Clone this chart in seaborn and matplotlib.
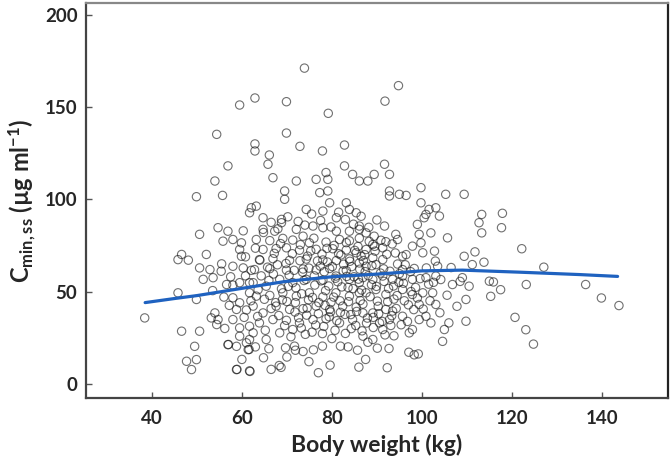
import matplotlib
matplotlib.use("Agg")
import matplotlib.pyplot as plt
import seaborn as sns
import pandas as pd

# body weight (kg) and Cmin,ss (ug/ml)
weight = [
    # high values
    73.9, 94.8, 62.9, 59.5, 69.9, 91.8, 79.2, 54.4, 69.9, 72.9, 62.9, 62.9, 82.8, 77.9, 66.1,
    # right tail
    113.3, 112.7, 113.3, 117.9, 117.7, 122.2, 127.1, 113.8, 111.8, 115.0, 115.9, 117.5, 115.3,
    123.2, 136.4, 139.9, 143.8, 120.7, 123.1, 124.8,
    # 40-62 kg, upper
    56.9, 54.0, 49.9, 55.7, 61.7, 62.1, 50.6, 54.7, 56.9, 60.3, 55.8, 58.0, 59.9, 59.5, 46.6,
    45.8, 48.1, 52.1, 59.9, 60.8, 50.6, 52.9, 55.4, 58.0, 60.3, 62.1,
    # 62-87 kg, upper
    65.8, 66.9, 72.1, 69.5, 69.5, 76.5, 78.7, 79.1, 82.8, 84.6, 86.1, 77.3, 79.1, 79.5, 83.2,
    83.9, 85.4, 74.3, 78.0, 81.0, 63.2, 64.7, 68.8, 68.8, 64.7, 67.3, 72.1, 75.8, 78.0, 81.0,
    83.9, 86.1, 63.2, 66.2, 69.1, 71.3, 73.6, 75.0, 78.7, 81.7, 83.9, 86.1, 64.7, 67.6, 69.9,
    72.8, 76.5, 80.2, 83.2, 85.4, 63.9, 66.9, 70.6, 74.3, 78.0, 81.0, 83.9, 86.1, 62.8, 66.2,
    69.9, 73.6, 76.5, 79.5, 83.2,
    # 86-111 kg, upper
    91.7, 89.4, 88.0, 92.8, 92.8, 92.8, 95.0, 96.5, 99.8, 105.3, 109.4, 99.8, 101.6, 103.1, 100.9,
    103.9, 100.5, 99.0, 91.7, 89.4, 87.6, 86.1, 94.2, 94.6, 99.4, 102.0, 99.8, 105.7, 89.1, 91.3,
    87.6, 97.9, 100.2, 102.8, 95.7, 86.5, 89.1, 91.3, 87.6, 89.8, 103.5, 109.4, 111.2, 95.7,
    # 38-62 kg, lower
    38.4, 45.8, 49.9, 46.6, 50.6, 49.5, 47.7, 49.9, 48.8, 54.0, 53.2, 54.7, 54.4, 56.6, 58.0,
    59.5, 51.4, 53.6, 58.0, 59.5, 58.8, 61.0, 58.0, 59.5, 61.7, 59.5, 61.7, 58.8, 61.4, 56.9,
    58.8, 61.7, 61.7, 61.7,
    # 62-87 kg, lower
    62.5, 65.4, 68.4, 71.3, 74.3, 78.0, 80.9, 83.9, 86.1, 63.2, 66.2, 69.1, 72.1, 75.0, 78.0,
    80.9, 83.9, 86.1, 62.5, 64.7, 67.6, 70.6, 73.6, 76.5, 79.5, 82.4, 85.4, 63.9, 66.9, 69.9,
    72.8, 75.8, 78.7, 81.7, 84.6, 62.5, 65.4, 68.4, 71.3,
    # lowest values
    77.0, 79.6, 75.9, 77.9, 71.7, 71.9, 69.7, 68.3, 68.7, 66.5, 64.8, 61.8, 60.0, 58.9, 61.0,
    61.6, 57.0, 83.6, 81.9, 85.7, 86.0, 87.5, 90.1, 92.3, 92.7, 97.1, 98.3, 99.2,
    # 86-111 kg, lower
    86.9, 89.1, 91.3, 93.5, 95.7, 97.9, 100.9, 103.1, 106.8, 109.0, 110.5, 87.6, 89.8, 92.0, 95.7,
    97.9, 100.2, 102.4, 109.8, 86.9, 89.1, 92.0, 93.5, 95.7, 90.6, 92.8, 99.4, 103.1, 100.9, 102.0,
    99.4, 109.8, 105.0, 86.9, 89.1, 91.3, 97.9, 97.2,
    # dense core
    70.5, 72.0, 73.5, 74.8, 76.2, 77.4, 78.6, 79.8, 81.3, 82.5, 83.6, 84.9, 86.3, 87.4, 88.8,
    90.1, 91.5, 92.6, 93.8, 94.9, 71.2, 73.0, 74.6, 76.0, 77.8, 79.0, 80.5, 82.0, 83.2, 84.4,
    85.8, 87.0, 88.3, 89.6, 90.9, 92.2, 93.4, 94.6, 70.0, 71.8, 73.2, 74.4, 75.6, 77.0, 78.2,
    79.4, 80.7, 81.9, 83.0, 84.2, 85.3, 86.7, 87.9, 89.2, 90.4, 91.8, 93.1, 94.3, 66.0, 67.5,
    68.8, 64.3, 65.7, 67.2, 68.6, 65.0, 63.6, 69.5, 96.3, 97.5, 98.6, 96.1, 98.2, 96.8, 104.2,
    105.6, 104.0, 106.5, 107.8, 108.5, 101.5, 103.0, 106.0, 104.6,
]

cmin = [
    171.1, 161.6, 154.9, 151.1, 152.9, 153.2, 146.6, 135.2, 135.9, 128.7, 130.0, 126.2, 129.4, 126.2, 124.0,
    91.8, 87.3, 81.8, 92.4, 84.6, 73.2, 63.2, 65.9, 71.5, 55.6, 55.2, 51.0, 47.4,
    53.8, 53.8, 46.5, 42.4, 36.0, 29.3, 21.5,
    118.1, 109.9, 101.4, 102.1, 92.7, 95.4, 81.0, 84.6, 82.7, 82.9, 77.3, 78.2, 76.4, 72.8, 70.1,
    67.3, 67.0, 70.1, 69.1, 68.8, 62.8, 61.9, 61.0, 63.7, 62.8, 61.5,
    119.0, 111.7, 109.9, 104.5, 100.0, 110.8, 114.5, 110.8, 118.1, 113.5, 109.9, 103.6, 104.5, 98.1, 98.1,
    94.5, 92.7, 94.5, 93.6, 90.0, 96.3, 90.0, 89.1, 87.3, 83.7, 82.7, 83.7, 85.5, 84.6, 82.7,
    82.7, 85.5, 78.2, 77.6, 78.8, 77.9, 80.0, 76.4, 76.8, 78.2, 77.5, 78.9, 72.8, 73.3, 73.7,
    72.4, 72.9, 73.2, 72.5, 71.0, 67.3, 67.8, 66.9, 67.6, 67.1, 66.8, 67.7, 65.5, 61.9, 62.4,
    61.6, 62.2, 61.7, 62.5, 61.4,
    119.0, 113.5, 109.9, 113.5, 104.5, 101.8, 102.7, 102.1, 106.3, 102.7, 102.7, 98.1, 94.5, 95.4, 91.8,
    90.9, 90.0, 86.4, 85.5, 80.0, 81.8, 83.7, 81.0, 78.2, 81.0, 81.8, 76.4, 79.1, 75.5, 73.7,
    72.8, 74.6, 71.0, 71.9, 69.1, 69.1, 68.3, 67.3, 63.7, 64.6, 63.7, 69.1, 64.6, 61.9,
    35.7, 49.3, 45.7, 28.5, 28.5, 20.3, 12.2, 13.1, 7.7, 38.4, 35.7, 34.8, 32.1, 53.8, 53.5,
    54.8, 56.6, 57.5, 46.6, 43.9, 40.3, 40.0, 34.8, 30.3, 31.2, 25.8, 24.0, 20.3, 18.5, 21.2,
    7.7, 7.0, 54.8, 49.3,
    54.8, 52.9, 56.6, 54.8, 56.6, 56.2, 58.4, 56.6, 54.8, 47.5, 47.9, 49.3, 47.5, 49.3, 47.1,
    49.3, 47.5, 49.3, 42.1, 38.4, 42.1, 40.3, 40.7, 42.1, 40.3, 42.1, 41.6, 33.0, 34.8, 34.4,
    33.0, 34.8, 35.2, 33.0, 34.8, 27.6, 24.0, 27.6, 29.4,
    6.0, 10.1, 18.4, 20.4, 20.4, 18.2, 19.5, 9.9, 8.9, 7.8, 14.1, 6.7, 13.2, 7.8, 22.2,
    18.6, 21.3, 20.0, 20.4, 18.2, 9.0, 13.2, 19.3, 8.7, 19.1, 17.1, 15.7, 16.2,
    57.5, 56.6, 58.4, 56.6, 58.4, 56.6, 57.5, 58.4, 53.8, 57.5, 52.9, 49.3, 51.1, 48.4, 51.1,
    48.4, 49.3, 49.3, 45.7, 38.4, 38.4, 40.3, 39.4, 36.6, 33.0, 34.8, 43.0, 43.0, 36.6, 33.0,
    34.8, 33.9, 29.4, 25.8, 24.0, 29.4, 29.4, 27.6,
    58.8, 52.0, 60.5, 45.5, 53.5, 63.8, 50.5, 44.2, 55.3, 61.2, 52.2, 58.0, 45.1, 60.8, 53.7,
    44.8, 62.3, 51.7, 45.9, 55.0, 70.5, 75.4, 69.2, 78.9, 70.3, 66.0, 75.0, 69.8, 76.5, 63.5,
    74.4, 66.8, 77.2, 71.9, 77.8, 70.2, 75.8, 64.9, 44.6, 38.9, 30.2, 37.2, 28.0, 38.0, 31.1,
    36.3, 29.0, 38.7, 27.3, 37.5, 31.6, 28.7, 35.6, 30.5, 38.0, 26.5, 31.6, 40.8, 56.0, 44.0,
    51.5, 58.5, 63.2, 70.7, 76.0, 45.8, 51.0, 31.5, 64.5, 60.8, 52.2, 45.0, 40.2, 33.8, 56.5,
    48.0, 38.5, 63.0, 42.0, 55.5, 54.0, 66.5, 33.0, 23.0,
]

# overlapping points in the dark middle of the cloud
core_weight = [
    62.0, 63.5, 64.0, 65.2, 66.5, 67.0, 67.9, 68.2, 69.0, 69.8, 70.3, 70.9, 71.6, 71.9, 72.6,
    72.9, 73.3, 73.8, 74.1, 74.5, 74.9, 75.3, 75.7, 76.1, 76.4, 76.8, 77.1, 77.6, 77.9, 78.3,
    78.5, 78.9, 79.3, 79.7, 80.1, 80.4, 80.8, 81.1, 81.5, 81.8, 82.2, 82.6, 82.9, 83.3, 83.7,
    84.0, 84.3, 84.7, 85.1, 85.5, 85.9, 86.2, 86.6, 86.9, 87.3, 87.7, 88.1, 88.5, 88.9, 89.2,
    89.5, 89.9, 90.3, 90.8, 91.2, 91.6, 92.0, 92.4, 92.9, 93.3, 93.7, 94.1, 94.5, 95.0, 95.4,
    95.9, 96.5, 97.0, 97.6, 98.3, 99.0, 99.6, 100.3, 101.0, 101.8, 102.6, 63.0, 64.8, 66.5, 68.0,
    70.2, 72.5, 74.0, 75.5, 77.5, 79.8, 81.5, 83.0, 84.8, 86.5, 88.2, 90.0, 57.5, 56.0, 57.2,
    55.5, 53.5, 56.2, 60.5, 60.8, 63.0, 66.0, 73.6, 80.0, 88.0, 93.8, 70.0, 74.9,
]
core_cmin = [
    45.0, 36.5, 67.0, 29.0, 40.8, 59.5, 64.5, 37.0, 45.5, 65.2, 52.8, 25.5, 61.5, 44.0, 35.8,
    66.7, 48.8, 56.0, 26.8, 41.0, 62.7, 72.0, 46.8, 58.5, 31.8, 66.6, 44.0, 55.8, 27.2, 60.7,
    42.5, 73.4, 53.0, 39.0, 63.5, 47.0, 57.2, 34.2, 70.5, 45.0, 52.5, 64.8, 37.6, 58.2, 44.5,
    66.4, 29.9, 51.6, 72.3, 39.2, 56.7, 62.1, 50.8, 43.2, 70.0, 32.9, 58.6, 47.2, 64.0, 36.0,
    74.5, 52.8, 42.0, 60.0, 33.8, 55.5, 77.0, 44.5, 61.0, 36.9, 53.0, 70.9, 47.8, 59.7, 32.0,
    54.5, 70.0, 42.8, 50.0, 62.5, 46.5, 57.0, 40.5, 62.8, 45.0, 55.0, 73.5, 82.0, 87.5, 84.0,
    90.5, 88.0, 86.0, 92.0, 88.5, 85.0, 93.0, 89.0, 86.5, 90.8, 84.8, 88.8, 58.0, 47.0, 42.5,
    65.0, 50.5, 30.0, 36.0, 58.5, 20.0, 19.0, 17.5, 24.5, 22.5, 26.0, 14.5, 12.0,
]

# smooth trend line
fit_weight = [38.5, 45, 50, 58.4, 69.5, 80, 91, 100, 109, 121.6, 135, 143.5]
fit_cmin = [44.0, 46.2, 47.8, 51.1, 55.4, 58.0, 59.6, 61.2, 61.6, 60.5, 59.2, 58.2]

df = pd.DataFrame({"weight": weight + core_weight, "cmin": cmin + core_cmin})

sns.set_style("ticks")
plt.rcParams["font.family"] = ["Lato", "DejaVu Sans"]
plt.rcParams["mathtext.fontset"] = "custom"
plt.rcParams["mathtext.rm"] = "Lato:bold"
plt.rcParams["mathtext.it"] = "Lato:bold"
plt.rcParams["mathtext.bf"] = "Lato:bold"

fig = plt.figure(figsize=(6.7, 4.68), dpi=100)
ax = fig.add_axes([0.128, 0.15, 0.869, 0.844])

sns.scatterplot(data=df, x="weight", y="cmin", ax=ax, marker="o", s=36,
                facecolors="none", edgecolor="#111111", linewidth=0.8, alpha=0.6)
sns.lineplot(x=fit_weight, y=fit_cmin, ax=ax, color="#1f62c0", linewidth=2.3)

ax.set_xlim(25.3, 154.7)
ax.set_ylim(-7.6, 206.5)
ax.set_xticks([40, 60, 80, 100, 120, 140])
ax.set_yticks([0, 50, 100, 150, 200])
ax.tick_params(direction="in", length=4, width=1, color="#555555",
               labelsize=13.5, pad=6)
ax.tick_params(axis="x", pad=9)
for lab in ax.get_xticklabels() + ax.get_yticklabels():
    lab.set_fontweight("bold")

ax.set_xlabel("Body weight (kg)", fontsize=16.5, fontweight="bold", labelpad=5)
ax.set_ylabel(r"C$_{\mathregular{min,ss}}$ (µg ml$^{\mathregular{-1}}$)",
              fontsize=17, fontweight="bold", labelpad=5)

for side in ["left", "bottom", "top", "right"]:
    ax.spines[side].set_visible(True)
    ax.spines[side].set_linewidth(1.6)
    ax.spines[side].set_color("#444444")
ax.spines["top"].set_color("#888888")
ax.spines["right"].set_color("#222222")

fig.savefig("out.png", dpi=100)
